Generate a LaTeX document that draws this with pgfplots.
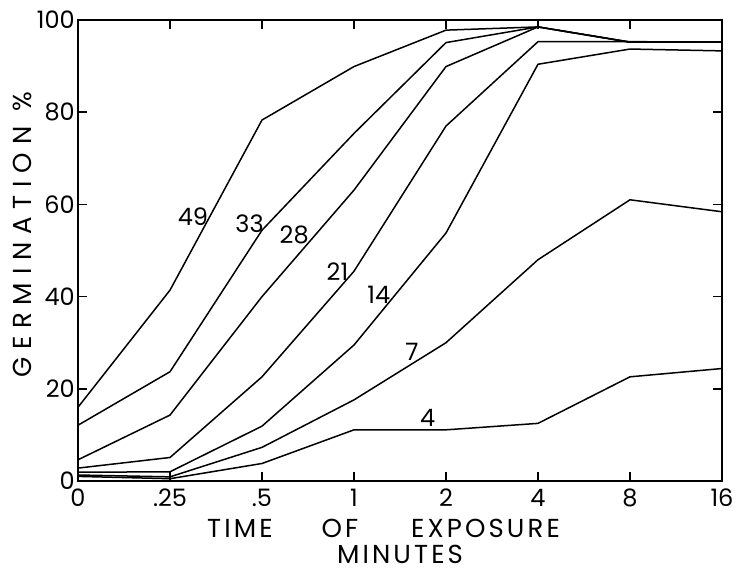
\documentclass[border=0pt]{standalone}
\usepackage{pgfplots}
\pgfplotsset{compat=1.18}
\usepackage{fontspec}
\setmainfont{Poppins}
\newfontfamily\spacedx[LetterSpace=12]{Poppins}
\newfontfamily\spacedy[LetterSpace=30]{Poppins}
\newcommand{\bigf}{\fontsize{24}{24}\selectfont}
\newcommand{\labf}{\fontsize{26}{26}\selectfont}
\begin{document}
\begin{tikzpicture}[x=1pt,y=1pt]
\path[use as bounding box] (0,0) rectangle (738,571);
\begin{axis}[
  at={(78pt,90pt)}, anchor=south west,
  scale only axis, width=644pt, height=461pt,
  xmin=0, xmax=7, ymin=0, ymax=100,
  xtick={0,1,2,3,4,5,6,7},
  xticklabels={0,.25,.5,1,2,4,8,16},
  ytick={0,20,40,60,80,100},
  tick align=inside,
  major tick length=9pt,
  every tick/.style={black, line width=1.6pt},
  axis line style={line width=1.6pt},
  tick label style={font=\bigf, inner sep=1pt},
  xticklabel style={yshift=-7pt},
  yticklabel style={xshift=-2pt},
  /pgf/number format/assume math mode=true,
  clip=false,
]
\addplot[black, line width=1.5pt] coordinates {(0,16) (1,41.4) (2,78.3) (3,89.9) (4,97.8) (5,98.5) (6,95.2) (7,95.2)};
\addplot[black, line width=1.5pt] coordinates {(0,12.1) (1,23.7) (2,54.4) (3,75.4) (4,95.1) (5,98.5) (6,95.2) (7,95.2)};
\addplot[black, line width=1.5pt] coordinates {(0,4.6) (1,14.3) (2,40) (3,63.1) (4,89.9) (5,98.5) (6,95.2) (7,95.2)};
\addplot[black, line width=1.5pt] coordinates {(0,2.8) (1,5.1) (2,22.6) (3,45.5) (4,77) (5,95.3) (6,95.3) (7,95.2)};
\addplot[black, line width=1.5pt] coordinates {(0,1.9) (1,2.0) (2,11.9) (3,29.5) (4,53.8) (5,90.4) (6,93.7) (7,93.3)};
\addplot[black, line width=1.5pt] coordinates {(0,1.3) (1,0.9) (2,7.3) (3,17.6) (4,30) (5,48) (6,61) (7,58.4)};
\addplot[black, line width=1.5pt] coordinates {(0,1.0) (1,0.5) (2,3.8) (3,11.1) (4,11.1) (5,12.5) (6,22.6) (7,24.4)};
\node[font=\bigf] at (axis cs:1.25,57.3) {49};
\node[font=\bigf] at (axis cs:1.865,55.9) {33};
\node[font=\bigf] at (axis cs:2.35,53.4) {28};
\node[font=\bigf] at (axis cs:2.82,45.4) {21};
\node[font=\bigf] at (axis cs:3.27,40.3) {14};
\node[font=\bigf] at (axis cs:3.63,28) {7};
\node[font=\bigf] at (axis cs:3.80,13.6) {4};
\end{axis}
\node[font=\spacedx\labf] at (240,43) {TIME};
\node[font=\spacedx\labf] at (340,43) {OF};
\node[font=\spacedx\labf] at (485.5,43) {EXPOSURE};
\node[font=\spacedx\labf, inner sep=0pt] at (400,17) {MINUTES};
\node[font=\spacedy\labf, rotate=90] at (22,336) {GERMINATION \%};
\end{tikzpicture}
\end{document}
